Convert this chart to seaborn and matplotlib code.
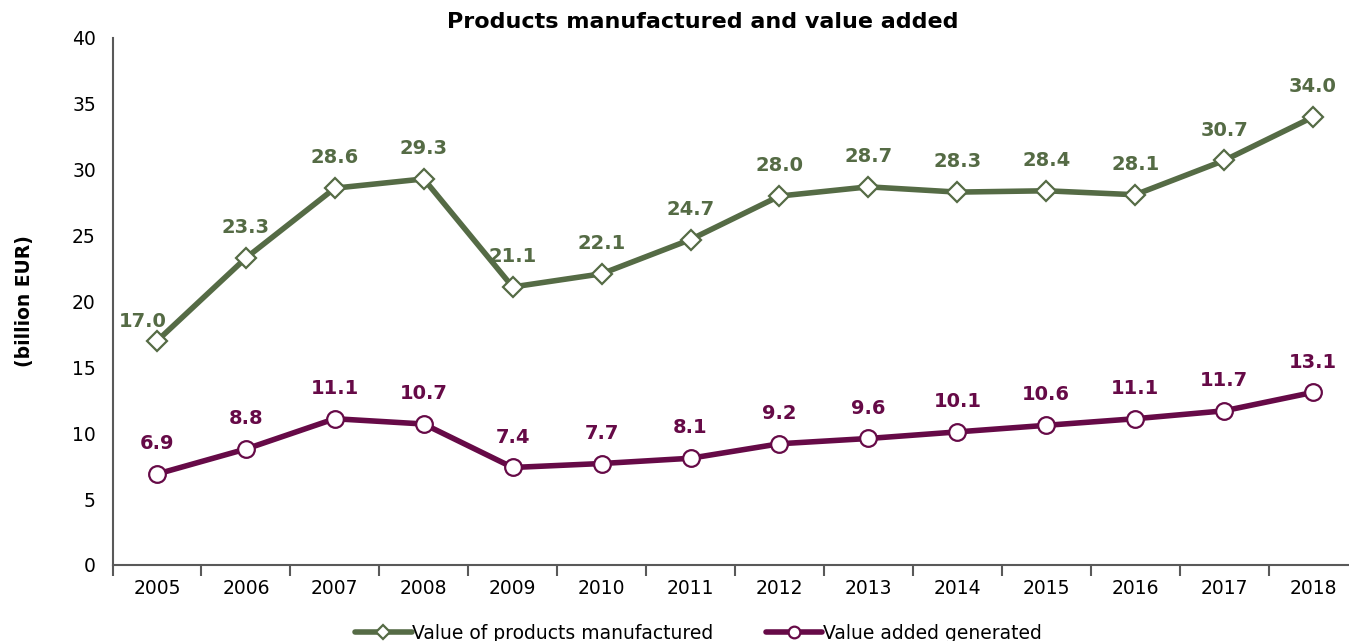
import matplotlib
matplotlib.use("Agg")
import matplotlib.pyplot as plt
import seaborn as sns
import pandas as pd

years = ["2005", "2006", "2007", "2008", "2009", "2010", "2011",
         "2012", "2013", "2014", "2015", "2016", "2017", "2018"]
products_value = [17.0, 23.3, 28.6, 29.3, 21.1, 22.1, 24.7,
                  28.0, 28.7, 28.3, 28.4, 28.1, 30.7, 34.0]
value_added = [6.9, 8.8, 11.1, 10.7, 7.4, 7.7, 8.1,
               9.2, 9.6, 10.1, 10.6, 11.1, 11.7, 13.1]
series_names = ["Value of products manufactured", "Value added generated"]

GREEN = "#556B45"
PURPLE = "#660A47"
AXIS_GRAY = "#595959"

sns.set_theme(style="white")
plt.rcParams["font.family"] = ["DejaVu Sans"]
plt.rcParams["text.color"] = "black"
plt.rcParams["axes.labelcolor"] = "black"
plt.rcParams["xtick.color"] = "black"
plt.rcParams["ytick.color"] = "black"

fig = plt.figure(figsize=(13.49, 6.41), dpi=100)
ax = fig.add_axes([0.0834, 0.1186, 0.9229, 0.8222])

df = pd.DataFrame({
    "year": years * 2,
    "value": products_value + value_added,
    "series": [series_names[0]] * len(years) + [series_names[1]] * len(years),
})

styles = {
    series_names[0]: dict(color=GREEN, marker="D", ms=10.5),
    series_names[1]: dict(color=PURPLE, marker="o", ms=12),
}

# label offsets in points; the first green label sits a little left and lower
label_offsets = {series_names[0]: {0: (-10, 7)}, series_names[1]: {}}

for name in series_names:
    sub = df[df["series"] == name]
    st = styles[name]
    sns.lineplot(data=sub, x="year", y="value", ax=ax, color=st["color"],
                 linewidth=4, marker=st["marker"], markersize=st["ms"],
                 markerfacecolor="white", markeredgecolor=st["color"],
                 markeredgewidth=1.6, label=name, legend=False,
                 sort=False, zorder=3)
    for i, v in enumerate(sub["value"]):
        off = label_offsets[name].get(i, (0, 15))
        ax.annotate(f"{v:.1f}", (i, v), xytext=off, textcoords="offset points",
                    ha="center", va="bottom", fontsize=14, fontweight="bold",
                    color=st["color"], zorder=4)

ax.set_xlim(-0.5, len(years) - 0.5)
ax.set_ylim(0, 40)
ax.set_yticks(range(0, 41, 5))
ax.set_xticks(range(len(years)))
ax.set_xticklabels(years)
ax.set_xticks([i + 0.5 for i in range(-1, len(years))], minor=True)
ax.tick_params(axis="x", which="major", length=0, pad=10, labelsize=13.5, labelcolor="black")
ax.tick_params(axis="x", which="minor", length=8, width=1.5, color=AXIS_GRAY,
               direction="out", bottom=True)
ax.tick_params(axis="y", which="major", length=6, width=1.5, color=AXIS_GRAY,
               direction="out", labelsize=13.5, labelcolor="black", pad=6)

for side in ("top", "right"):
    ax.spines[side].set_visible(False)
for side in ("left", "bottom"):
    ax.spines[side].set_color(AXIS_GRAY)
    ax.spines[side].set_linewidth(1.5)

ax.set_xlabel("")
ax.set_ylabel("(billion EUR)", fontsize=13.5, fontweight="bold", labelpad=27, color="black")
ax.grid(False)

fig.suptitle("Products manufactured and value added", x=0.521, y=0.982,
             fontsize=16, fontweight="bold", va="top", color="black")

handles, labels = ax.get_legend_handles_labels()
fig.legend(handles, labels, loc="center", bbox_to_anchor=(0.518, 0.012),
           ncol=2, frameon=False, fontsize=13.5, handlelength=3.0,
           handletextpad=0.05, columnspacing=2.8, markerscale=0.7)

fig.savefig("out.png", dpi=100, facecolor="white")
